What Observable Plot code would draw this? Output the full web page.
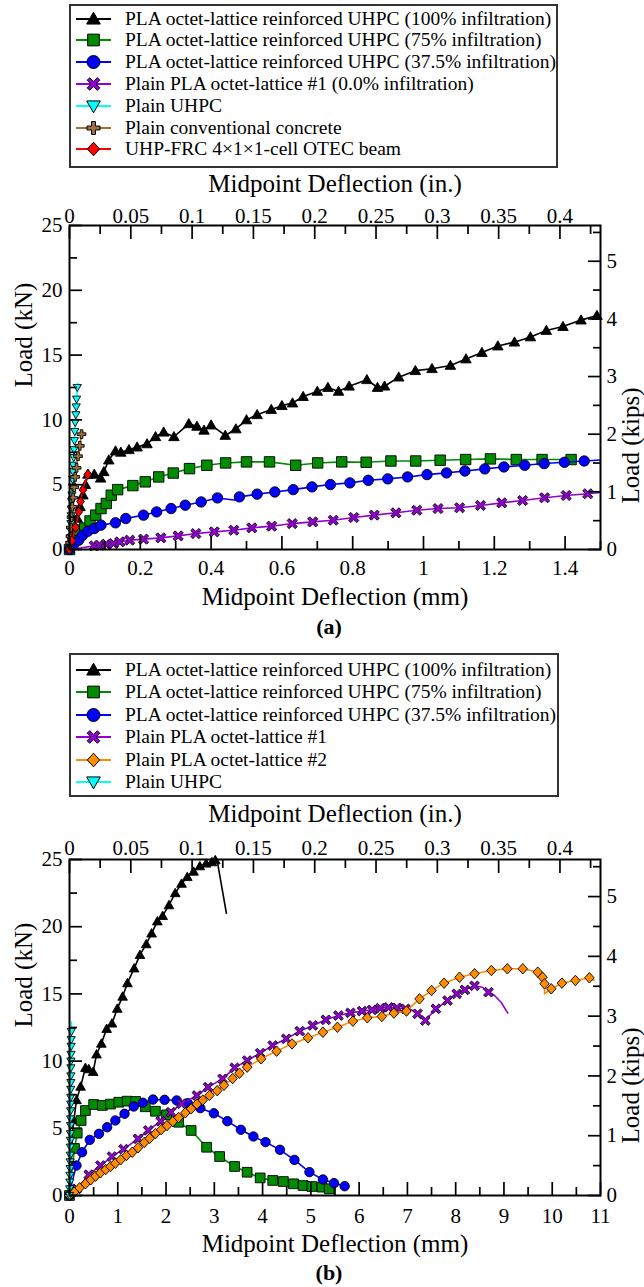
<!DOCTYPE html>
<html><head><meta charset="utf-8">
<script src="https://cdn.jsdelivr.net/npm/d3@7"></script>
<script src="https://cdn.jsdelivr.net/npm/@observablehq/plot@0.6"></script>
<style>
html,body{margin:0;padding:0;background:#fff;}
body{width:644px;height:1287px;overflow:hidden;position:relative;font-family:"Liberation Serif","Times New Roman",Times,serif;color:#000;}
.legend{position:absolute;border:2px solid #333;box-sizing:border-box;background:#fff;}
.row{position:absolute;height:22px;line-height:22px;white-space:nowrap;font-size:19.5px;}
.cap{position:absolute;font-weight:bold;font-size:22px;transform:translate(-50%,-50%);line-height:1;}
svg.plot{position:absolute;left:0;}
</style></head><body>
<script>
// ---------------- data: panel (a) ----------------
const aX100 = [[0,0],[0.008,0.8],[0.015,1.6],[0.022,2.4],[0.03,3.3],[0.038,4.2],[0.045,5.0],[0.052,5.8],[0.07,5.8],[0.088,5.5],[0.097,6.0],[0.111,6.9],[0.13,7.6],[0.145,7.5],[0.168,7.7],[0.191,7.9],[0.219,8.15],[0.243,8.7],[0.266,9.05],[0.295,8.7],[0.337,9.7],[0.36,9.5],[0.38,9.2],[0.4,9.6],[0.44,8.8],[0.47,9.3],[0.5,10.0],[0.53,10.4],[0.57,10.8],[0.6,11.1],[0.63,11.3],[0.66,11.8],[0.7,12.2],[0.73,12.5],[0.76,12.2],[0.79,12.6],[0.84,13.1],[0.87,12.5],[0.89,12.6],[0.93,13.3],[0.977,13.8],[1.024,13.95],[1.076,14.2],[1.12,14.7],[1.165,15.2],[1.21,15.7],[1.257,16.0],[1.302,16.4],[1.347,16.9],[1.394,17.2],[1.445,17.7],[1.49,18.05]];
const aX75 = [[0,0],[0.01,0.8],[0.025,1.5],[0.043,1.65],[0.058,2.2],[0.074,2.65],[0.089,3.16],[0.104,3.55],[0.118,4.19],[0.136,4.62],[0.179,4.93],[0.214,5.22],[0.252,5.6],[0.293,5.9],[0.339,6.24],[0.388,6.5],[0.441,6.68],[0.5,6.76],[0.565,6.76],[0.639,6.5],[0.701,6.68],[0.769,6.76],[0.838,6.73],[0.908,6.83],[0.978,6.83],[1.047,6.89],[1.119,6.94],[1.189,6.99],[1.262,6.94],[1.335,6.94],[1.417,6.94],[1.43,6.9,0]];
const aX375 = [[0,0],[0.012,0.4],[0.026,0.72],[0.037,1.1],[0.052,1.41],[0.07,1.62],[0.089,1.88],[0.13,2.06],[0.159,2.39],[0.209,2.65],[0.246,2.9],[0.287,3.16],[0.327,3.42],[0.372,3.67],[0.418,3.98],[0.47,3.8,0],[0.48,4.06],[0.53,4.27],[0.58,4.44],[0.632,4.62],[0.685,4.83],[0.737,5.01],[0.792,5.14],[0.844,5.34],[0.899,5.45],[0.955,5.6],[1.01,5.78],[1.065,5.91],[1.117,6.06],[1.173,6.22],[1.227,6.37],[1.286,6.5],[1.341,6.63],[1.398,6.73],[1.454,6.83],[1.5,6.9,0]];
const aPLA1 = [[0,0,0],[0.03,0.12,0],[0.07,0.28],[0.084,0.33],[0.104,0.41],[0.124,0.46],[0.142,0.59],[0.17,0.72],[0.209,0.8],[0.258,0.9],[0.307,1.05],[0.357,1.23],[0.409,1.36],[0.464,1.49],[0.515,1.67],[0.571,1.8],[0.629,2.0],[0.687,2.13],[0.745,2.26],[0.803,2.47],[0.861,2.65],[0.922,2.83],[0.981,3.03],[1.041,3.16],[1.102,3.22],[1.161,3.4],[1.221,3.6],[1.28,3.78],[1.342,3.99],[1.403,4.17],[1.464,4.3],[1.5,4.4,0]];
const aUHPC = [[0,0],[0.001,0.4],[0.002,0.9],[0.003,1.5],[0.004,2.0],[0.005,2.6],[0.006,3.1],[0.006,3.7],[0.007,4.2],[0.008,4.8],[0.009,5.4],[0.01,6.0],[0.011,6.5],[0.012,7.1],[0.013,7.7],[0.014,8.4],[0.015,9.1],[0.016,9.8],[0.018,10.4],[0.019,11.0],[0.02,11.6],[0.022,12.5],[0.023,12.8,0]];
const aConc = [[0,0],[0.002,0.5],[0.003,1.0],[0.004,1.7],[0.006,2.5],[0.008,3.3],[0.01,4.0],[0.013,4.8],[0.016,5.6],[0.02,6.3],[0.024,7.2],[0.029,8.0],[0.034,8.9],[0.037,9.1,0]];
const aOTEC = [[0,0],[0.003,0.3,0],[0.007,0.7],[0.012,1.2,0],[0.017,1.7],[0.021,2.2,0],[0.026,2.9],[0.031,3.7],[0.038,4.6],[0.044,5.2,0],[0.052,5.8]];

// ---------------- data: panel (b) ----------------
const bX100 = [[0,0,0],[0.03,2.0,0],[0.06,4.5,0],[0.09,5.6],[0.145,7.1],[0.23,8.1],[0.33,9.5],[0.4,9.4],[0.49,9.2],[0.56,10.5],[0.66,11.3],[0.77,12.4],[0.88,12.8],[0.99,13.9],[1.1,14.8],[1.2,15.8],[1.34,16.9],[1.46,17.9],[1.59,18.7],[1.7,19.5],[1.82,20.4],[1.93,20.8],[2.06,21.6],[2.19,22.5],[2.32,23.2],[2.44,23.7],[2.57,24.1],[2.7,24.5],[2.83,24.7],[2.95,24.8],[3.02,24.95],[3.07,24.7,0],[3.25,21.0,0]];
const bX75 = [[0,0],[0.03,1.2,0],[0.07,2.4,0],[0.104,3.5],[0.16,4.64],[0.24,5.58],[0.33,6.32],[0.5,6.77],[0.68,6.7],[0.85,6.8],[1.02,6.94],[1.195,7.02],[1.37,7.0],[1.57,6.6],[1.78,6.27],[2.01,6.0],[2.26,5.45],[2.52,4.84],[2.84,3.59],[3.11,2.9],[3.42,2.16],[3.68,1.73],[3.95,1.31],[4.21,1.12],[4.43,1.04],[4.64,0.87],[4.84,0.74],[5.02,0.67],[5.23,0.62],[5.38,0.5],[5.46,0.37,0]];
const bX375 = [[0,0],[0.04,0.8,0],[0.09,1.5,0],[0.145,2.23],[0.26,3.22],[0.42,4.14],[0.61,4.59],[0.78,5.08],[0.95,5.58],[1.14,6.08],[1.33,6.62],[1.52,6.9],[1.73,7.14],[1.97,7.12],[2.22,7.07],[2.45,6.87],[2.71,6.5],[2.99,6.12],[3.27,5.53],[3.55,4.89],[3.81,4.39],[4.06,3.97],[4.36,3.4],[4.66,2.65],[4.97,1.74],[5.25,1.19],[5.48,0.92],[5.7,0.69],[5.76,0.72,0]];
const bPLA1 = [[0,0,0],[0.15,0.5],[0.4,1.55],[0.64,2.23],[0.88,2.9],[1.12,3.45],[1.42,4.22],[1.63,4.84],[1.89,5.53],[2.1,6.2],[2.32,6.82],[2.64,7.44],[2.87,8.06],[3.17,8.68],[3.42,9.5],[3.68,10.04],[3.95,10.59],[4.21,11.16],[4.49,11.66],[4.77,12.23],[5.04,12.65],[5.31,13.07],[5.57,13.39],[5.82,13.59],[6.06,13.72],[6.27,13.81],[6.44,13.94],[6.61,14.0],[6.78,13.96],[6.96,13.89],[7.07,13.85,0],[7.21,13.52],[7.37,13.02],[7.59,13.89],[7.83,14.5],[8.02,15.0],[8.19,15.3],[8.39,15.6],[8.55,15.5,0],[8.68,15.13],[8.8,14.9,0],[8.94,14.38,0],[9.08,13.57,0]];
const bPLA2 = [[0,0],[0.1,0.25],[0.21,0.57],[0.33,0.87],[0.44,1.17],[0.54,1.44],[0.64,1.69],[0.75,1.93],[0.85,2.16],[0.95,2.4],[1.06,2.66],[1.18,2.98],[1.3,3.22],[1.42,3.55],[1.55,3.95],[1.66,4.25],[1.78,4.6],[1.9,4.9],[2.02,5.2],[2.14,5.5],[2.26,5.8],[2.4,6.15],[2.52,6.45],[2.64,6.8],[2.76,7.1],[2.9,7.45],[3.06,7.8],[3.2,8.2],[3.38,8.7],[3.52,9.1],[3.68,9.55],[3.97,10.17],[4.29,10.74],[4.61,11.28],[4.94,11.73],[5.25,12.15],[5.55,12.52],[5.87,12.97],[6.17,13.22],[6.47,13.32],[6.72,13.57],[6.98,13.72],[7.25,14.63],[7.5,15.25],[7.76,15.8],[8.08,16.24],[8.39,16.5],[8.74,16.74],[9.07,16.87],[9.39,16.87],[9.7,16.62],[9.8,16.24],[9.84,15.75],[9.84,15.0,0],[9.98,15.38],[10.2,15.8],[10.48,16.0],[10.77,16.2],[10.87,16.0,0]];
const bUHPC = [[0,0],[0.005,0.5],[0.008,1.0],[0.01,1.5],[0.012,2.0],[0.014,2.5],[0.016,3.0],[0.018,3.6],[0.019,4.1],[0.02,4.6],[0.021,5.2],[0.022,5.7],[0.023,6.3],[0.024,6.8],[0.025,7.3],[0.026,7.9],[0.027,8.4],[0.028,8.9],[0.029,9.5],[0.03,10.0],[0.032,10.5],[0.034,11.1],[0.036,11.6],[0.038,12.2],[0.04,12.9,0]];

// ---------------- legend labels ----------------
const legendLabelsA = ["PLA octet-lattice reinforced UHPC (100% infiltration)","PLA octet-lattice reinforced UHPC (75% infiltration)","PLA octet-lattice reinforced UHPC (37.5% infiltration)","Plain PLA octet-lattice #1 (0.0% infiltration)","Plain UHPC","Plain conventional concrete","UHP-FRC 4×1×1-cell OTEC beam"];
const legendLabelsB = ["PLA octet-lattice reinforced UHPC (100% infiltration)","PLA octet-lattice reinforced UHPC (75% infiltration)","PLA octet-lattice reinforced UHPC (37.5% infiltration)","Plain PLA octet-lattice #1","Plain PLA octet-lattice #2","Plain UHPC"];

// ---------------- ticks ----------------
const yMajor = [0,5,10,15,20,25];
const yMinor = [2.5,7.5,12.5,17.5,22.5];
const kipsMajor = [0,1,2,3,4,5];
const kipsMinor = [0.5,1.5,2.5,3.5,4.5,5.5];
const inMajor = [0,0.05,0.1,0.15,0.2,0.25,0.3,0.35,0.4];
const inMajorLabels = ["0","0.05","0.1","0.15","0.2","0.25","0.3","0.35","0.4"];
const inMinor = [0.025,0.075,0.125,0.175,0.225,0.275,0.325,0.375,0.425];
const xMajorA = [0,0.2,0.4,0.6,0.8,1,1.2,1.4];
const xMajorLabelsA = ["0","0.2","0.4","0.6","0.8","1","1.2","1.4"];
const xMinorA = [0.1,0.3,0.5,0.7,0.9,1.1,1.3,1.5];
const xMajorB = [0,1,2,3,4,5,6,7,8,9,10,11];
const xMajorLabelsB = ["0","1","2","3","4","5","6","7","8","9","10","11"];
const xMinorB = [0.5,1.5,2.5,3.5,4.5,5.5,6.5,7.5,8.5,9.5,10.5];

const KN_PER_KIP = 4.4482216;
const FONT = "'Liberation Serif', 'Times New Roman', Times, serif";

// ---------------- symbols ----------------
function poly(c, pts){ c.moveTo(pts[0][0],pts[0][1]); for(let i=1;i<pts.length;i++) c.lineTo(pts[i][0],pts[i][1]); c.closePath(); }
const R = s => Math.sqrt(s/Math.PI);
function plusPts(L,t){ return [[-t,-L],[t,-L],[t,-t],[L,-t],[L,t],[t,t],[t,L],[-t,L],[-t,t],[-L,t],[-L,-t],[-t,-t]]; }
const sym = {
  triUp:{draw(c,s){const r=R(s);poly(c,[[0,-r*1.05],[r*1.05,r*0.78],[-r*1.05,r*0.78]]);}},
  triDown:{draw(c,s){const r=R(s);poly(c,[[0,r*1.05],[r*1.05,-r*0.78],[-r*1.05,-r*0.78]]);}},
  square:{draw(c,s){const r=R(s)*0.9;poly(c,[[-r,-r],[r,-r],[r,r],[-r,r]]);}},
  circle:{draw(c,s){const r=R(s);c.moveTo(r,0);c.arc(0,0,r,0,2*Math.PI);c.closePath();}},
  diamond:{draw(c,s){const r=R(s);poly(c,[[0,-r*1.05],[r*0.95,0],[0,r*1.05],[-r*0.95,0]]);}},
  diamondN:{draw(c,s){const r=R(s);poly(c,[[0,-r*1.1],[r*0.85,0],[0,r*1.1],[-r*0.85,0]]);}},
  plus:{draw(c,s){const r=R(s);poly(c,plusPts(r,r*0.3));}},
  cross:{draw(c,s){const r=R(s);const k=Math.SQRT1_2;poly(c,plusPts(r*1.1,r*0.28).map(([x,y])=>[(x-y)*k,(x+y)*k]));}}
};

const C = {black:"#000000", green:"#008b00", blue:"#0000ff", purple:"#9400d3", cyan:"#00ffff", brown:"#a0703c", red:"#ff0000", orange:"#ff8c00"};

const seriesA = [
  {data:aX100, color:C.black, symbol:"triUp", r:5.0},
  {data:aX75, color:C.green, symbol:"square", r:5.8},
  {data:aX375, color:C.blue, symbol:"circle", r:5.2},
  {data:aPLA1, color:C.purple, symbol:"cross", r:5.2},
  {data:aUHPC, color:C.cyan, symbol:"triDown", r:3.9},
  {data:aConc, color:C.brown, symbol:"plus", r:4.4},
  {data:aOTEC, color:C.red, symbol:"diamondN", r:4.5}
];
const seriesB = [
  {data:bX100, color:C.black, symbol:"triUp", r:4.6},
  {data:bX75, color:C.green, symbol:"square", r:5.4},
  {data:bX375, color:C.blue, symbol:"circle", r:4.7},
  {data:bPLA1, color:C.purple, symbol:"cross", r:5.0},
  {data:bPLA2, color:C.orange, symbol:"diamond", r:5.0},
  {data:bUHPC, color:C.cyan, symbol:"triDown", r:3.9}
];
const legendSymbols = ["triUp","square","circle","cross","triDown","plus","diamond"];

function lookup(keys, labels){ const m = new Map(keys.map((k,i)=>[k,labels[i]])); return d => m.has(d) ? m.get(d) : ""; }

function panel(o){
  const marks = [];
  for (const s of o.series){
    marks.push(Plot.line(s.data, {x:d=>d[0], y:d=>d[1], stroke:s.color, strokeWidth:1.6}));
    marks.push(Plot.dot(s.data.filter(d=>d[2]!==0), {x:d=>d[0], y:d=>d[1], symbol:sym[s.symbol], r:s.r, fill:s.color, stroke:"black", strokeWidth:0.9}));
  }
  marks.push(Plot.frame({stroke:"black", strokeWidth:2}));
  const topPos = inMajor.map(v => v*25.4*o.xMax/11);
  const topMinorPos = inMinor.map(v => v*25.4*o.xMax/11);
  const kPos = kipsMajor.map(v => v*KN_PER_KIP);
  const kMinorPos = kipsMinor.map(v => v*KN_PER_KIP);
  const empty = () => "";
  const tw = 1.7;
  marks.push(Plot.axisX({anchor:"bottom", ticks:o.xMajor, tickSize:-13, tickFormat:empty, label:null, strokeWidth:tw}));
  marks.push(Plot.axisX({anchor:"bottom", ticks:o.xMinor, tickSize:-8, tickFormat:empty, label:null, strokeWidth:tw}));
  marks.push(Plot.axisX({anchor:"top", ticks:topPos, tickSize:-13, tickFormat:empty, label:null, strokeWidth:tw}));
  marks.push(Plot.axisX({anchor:"top", ticks:topMinorPos, tickSize:-8, tickFormat:empty, label:null, strokeWidth:tw}));
  marks.push(Plot.axisY({anchor:"left", ticks:yMajor, tickSize:-13, tickFormat:empty, label:null, strokeWidth:tw}));
  marks.push(Plot.axisY({anchor:"left", ticks:yMinor, tickSize:-8, tickFormat:empty, label:null, strokeWidth:tw}));
  marks.push(Plot.axisY({anchor:"right", ticks:kPos, tickSize:-13, tickFormat:empty, label:null, strokeWidth:tw}));
  marks.push(Plot.axisY({anchor:"right", ticks:kMinorPos, tickSize:-8, tickFormat:empty, label:null, strokeWidth:tw}));
  marks.push(Plot.axisX({anchor:"bottom", ticks:o.xMajor, tickSize:0, tickPadding:o.padBottom, tickFormat:lookup(o.xMajor,o.xLabels), label:null, fontSize:21, fill:"black"}));
  marks.push(Plot.axisX({anchor:"top", ticks:topPos, tickSize:0, tickPadding:o.padTop, tickFormat:lookup(topPos,inMajorLabels), label:null, fontSize:21, fill:"black"}));
  marks.push(Plot.axisY({anchor:"left", ticks:yMajor, tickSize:0, tickPadding:7, tickFormat:d=>String(d), label:null, fontSize:21, fill:"black"}));
  marks.push(Plot.axisY({anchor:"right", ticks:kPos, tickSize:0, tickPadding:6, tickFormat:lookup(kPos,kipsMajor.map(String)), label:null, fontSize:21, fill:"black"}));
  marks.push(Plot.text(["Midpoint Deflection (mm)"], {text:d=>d, frameAnchor:"bottom", dy:o.dyBottom, fontSize:25, lineAnchor:"middle", fill:"black"}));
  marks.push(Plot.text(["Midpoint Deflection (in.)"], {text:d=>d, frameAnchor:"top", dy:o.dyTop, fontSize:25, lineAnchor:"middle", fill:"black"}));
  marks.push(Plot.text(["Load (kN)"], {text:d=>d, frameAnchor:"left", dx:-45.5, rotate:-90, fontSize:25, lineAnchor:"middle", fill:"black"}));
  marks.push(Plot.text(["Load (kips)"], {text:d=>d, frameAnchor:"right", dx:30, rotate:-90, fontSize:25, lineAnchor:"middle", fill:"black"}));
  const svg = Plot.plot({
    width:644, height:o.height, marginTop:o.marginTop, marginBottom:o.marginBottom, marginLeft:69, marginRight:44,
    x:{domain:[0,o.xMax]}, y:{domain:[0,25]},
    style:{fontFamily:FONT, fontSize:"21px", background:"white", overflow:"visible", color:"black"},
    marks
  });
  svg.classList.add("plot");
  svg.style.top = o.top + "px";
  svg.style.maxWidth = "none";
  document.body.appendChild(svg);
}

function legend(series, labels, symbols, box, firstRow, step){
  const b = document.createElement("div");
  b.className = "legend";
  Object.assign(b.style, {left:box[0]+"px", top:box[1]+"px", width:(box[2]-box[0])+"px", height:(box[3]-box[1])+"px"});
  document.body.appendChild(b);
  series.forEach((s,i)=>{
    const cy = firstRow + i*step;
    const svg = d3.create("svg").attr("width",44).attr("height",22)
      .style("position","absolute").style("left","72px").style("top",(cy-11)+"px").style("overflow","visible");
    svg.append("line").attr("x1",4).attr("x2",39).attr("y1",11).attr("y2",11).attr("stroke",s.color).attr("stroke-width",2);
    const p = d3.path(); sym[symbols[i] || s.symbol].draw(p, Math.PI*6.5*6.5);
    svg.append("path").attr("d",p.toString()).attr("transform","translate(21.5,11)").attr("fill",s.color).attr("stroke","black").attr("stroke-width",1);
    document.body.appendChild(svg.node());
    const t = document.createElement("div");
    t.className = "row"; t.textContent = labels[i];
    t.style.top = (cy-11)+"px"; t.style.left = "125px";
    document.body.appendChild(t);
  });
}
function caption(text, x, y){
  const d = document.createElement("div"); d.className="cap"; d.textContent=text;
  d.style.left = x+"px"; d.style.top = y+"px"; document.body.appendChild(d);
}

legend(seriesA, legendLabelsA, legendSymbols, [69,4,558,168], 18.5, 21.8);
panel({series:seriesA, xMax:1.5, xMajor:xMajorA, xMinor:xMinorA, xLabels:xMajorLabelsA, top:170, height:440, marginTop:55, marginBottom:61, padBottom:11, padTop:3, dyBottom:47, dyTop:-42});
caption("(a)", 329, 627);
legend(seriesB, legendLabelsB, ["triUp","square","circle","cross","diamond","triDown"], [69,653,559,797], 670, 22.4);
panel({series:seriesB, xMax:11, xMajor:xMajorB, xMinor:xMinorB, xLabels:xMajorLabelsB, top:800, height:455, marginTop:59, marginBottom:60, padBottom:13, padTop:5, dyBottom:48, dyTop:-46});
caption("(b)", 329, 1273);
</script>
</body></html>
